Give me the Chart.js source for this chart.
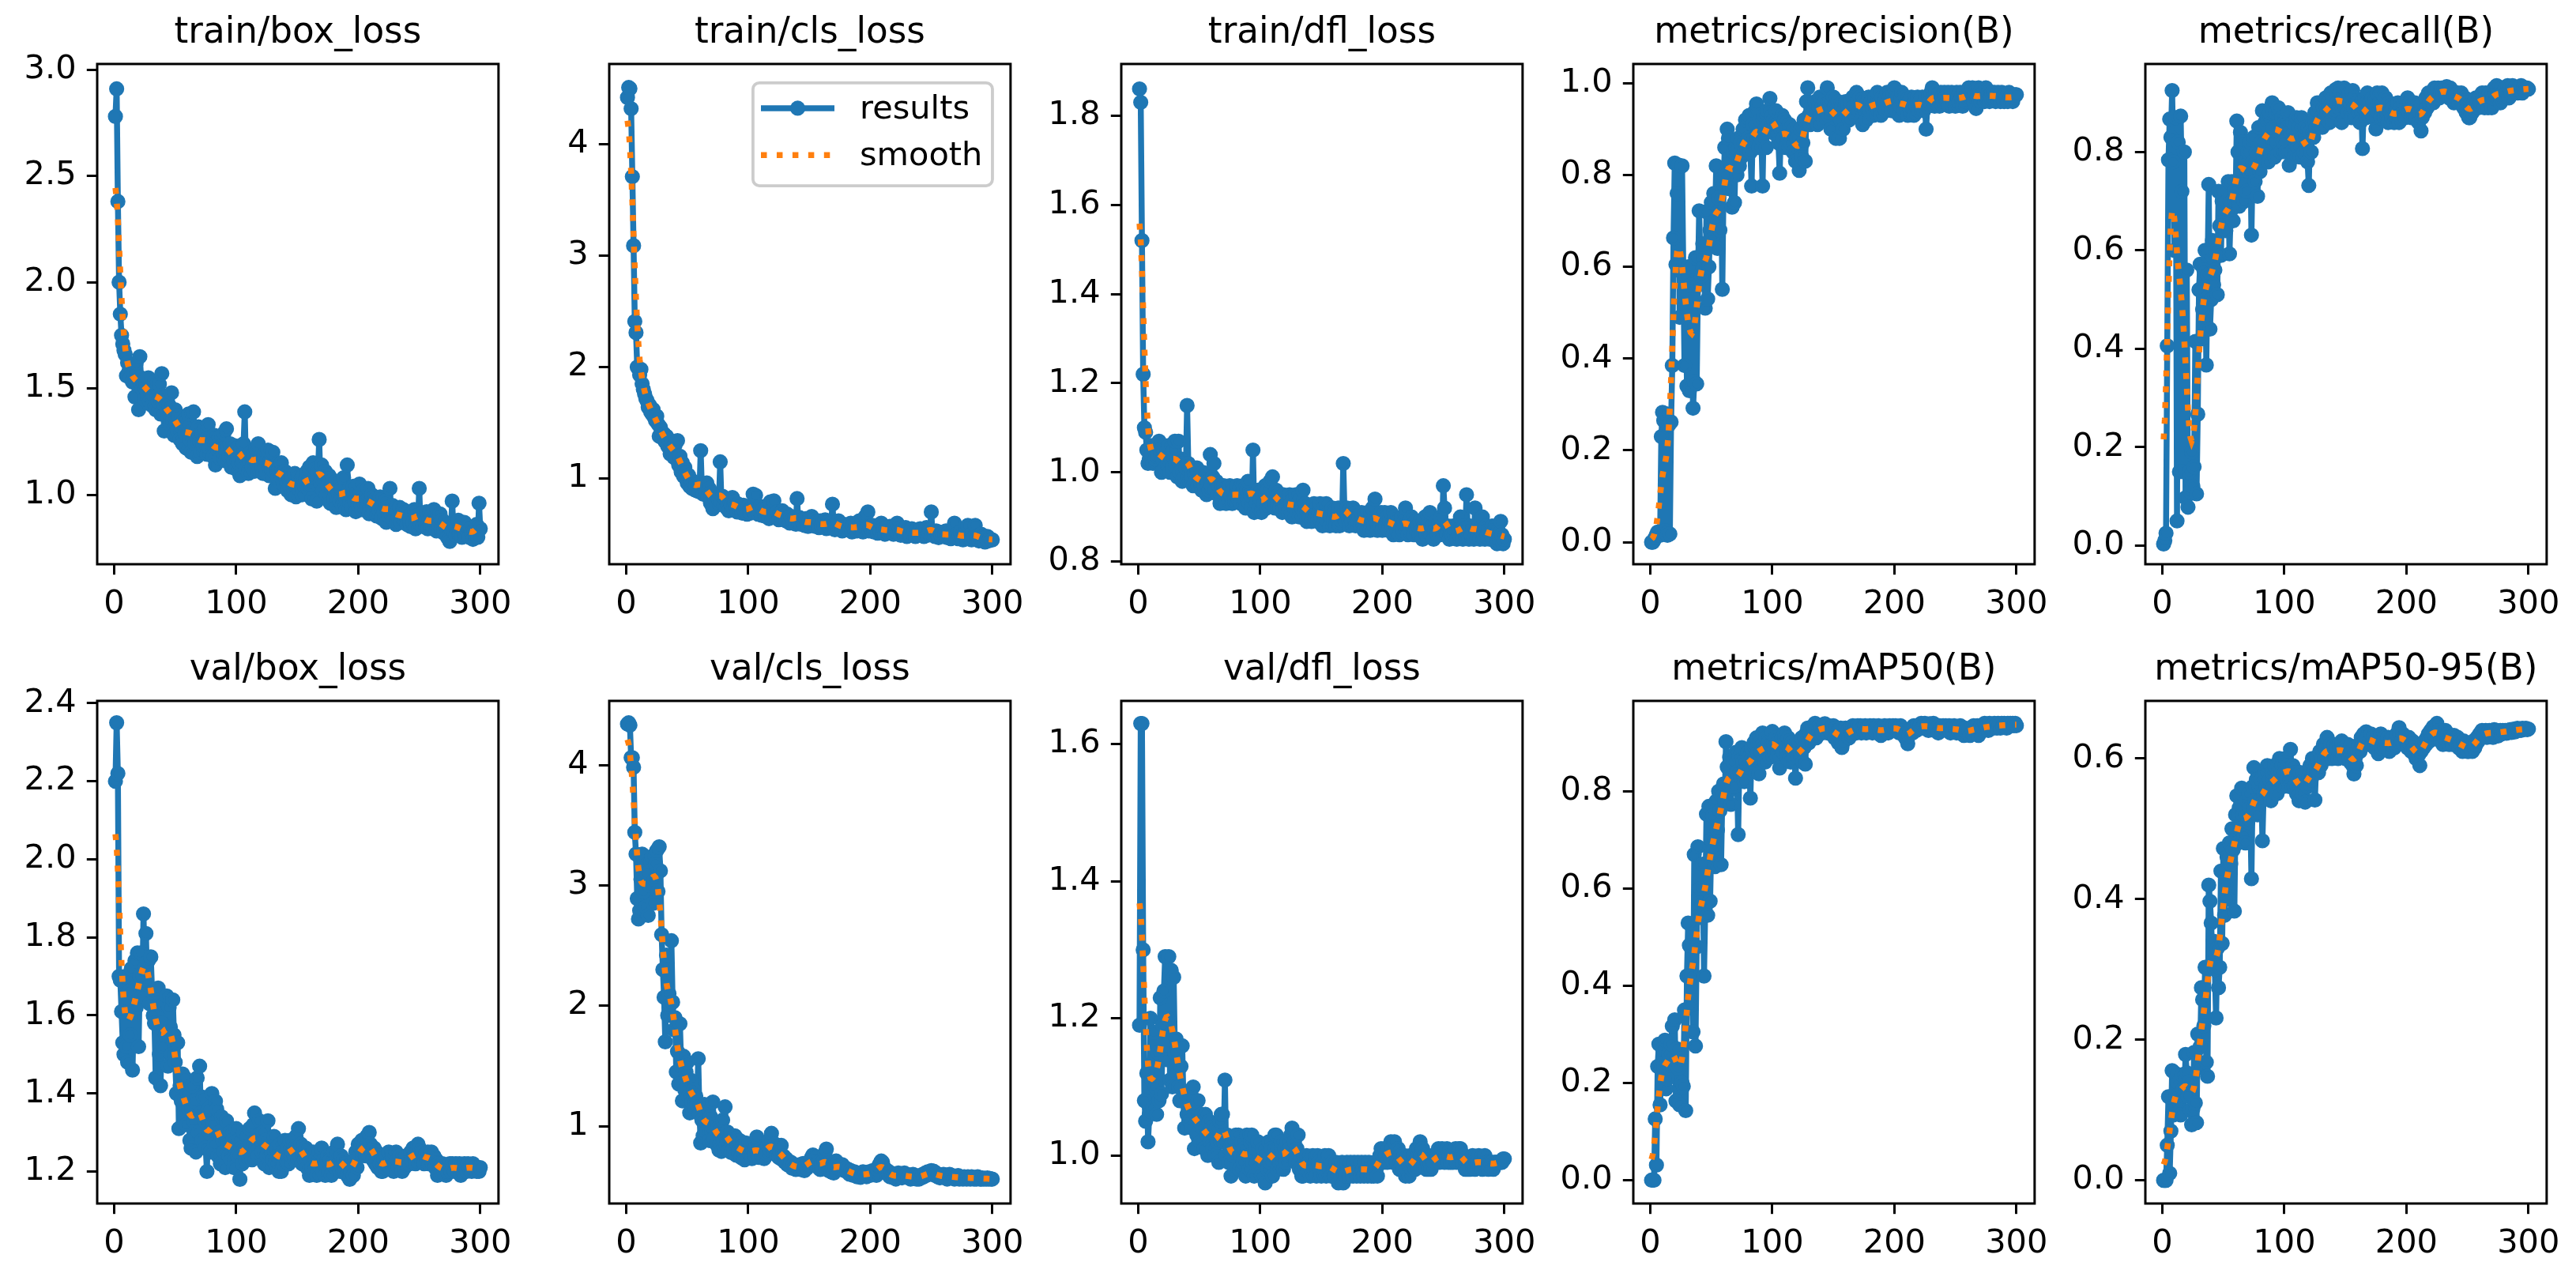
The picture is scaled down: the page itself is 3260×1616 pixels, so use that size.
<!DOCTYPE html>
<html><head><meta charset="utf-8">
<script src="https://cdn.jsdelivr.net/npm/chart.js@4.4.1/dist/chart.umd.min.js"></script>
<style>
html,body{margin:0;padding:0;background:#fff;}
body{width:3260px;height:1616px;position:relative;overflow:hidden;}
canvas{position:absolute;}
</style></head><body>
<script>
// ---------------- DATA ----------------
const epochs = Array.from({length: 300}, (_, i) => i + 1);

const titles = ["train/box_loss","train/cls_loss","train/dfl_loss","metrics/precision(B)","metrics/recall(B)",
                "val/box_loss","val/cls_loss","val/dfl_loss","metrics/mAP50(B)","metrics/mAP50-95(B)"];
const seriesLabels = ["results","smooth"];
const xTickLabels = ["0","100","200","300"];
const yTickLabels = [
  ["1.0","1.5","2.0","2.5","3.0"],
  ["1","2","3","4"],
  ["0.8","1.0","1.2","1.4","1.6","1.8"],
  ["0.0","0.2","0.4","0.6","0.8","1.0"],
  ["0.0","0.2","0.4","0.6","0.8"],
  ["1.2","1.4","1.6","1.8","2.0","2.2","2.4"],
  ["1","2","3","4"],
  ["1.0","1.2","1.4","1.6"],
  ["0.0","0.2","0.4","0.6","0.8"],
  ["0.0","0.2","0.4","0.6"]
];
const xLimits = [-13.95, 314.95];
const yLimits = [[0.673,3.027],[0.231,4.721],[0.794,1.916],[-0.048,1.042],[-0.038,0.979],
                 [1.118,2.406],[0.357,4.532],[0.930,1.663],[-0.048,0.986],[-0.033,0.682]];

const trainBoxLoss = [
2.78,2.91,2.38,2.00,1.85,1.75,1.71,1.68,1.66,1.56,1.62,1.58,1.55,1.60,1.53,1.57,1.46,1.62,1.52,1.40,
1.65,1.55,1.50,1.53,1.45,1.52,1.48,1.55,1.44,1.50,1.42,1.47,1.53,1.40,1.46,1.44,1.52,1.38,1.57,1.43,
1.30,1.46,1.40,1.36,1.42,1.33,1.48,1.35,1.28,1.40,1.34,1.30,1.37,1.26,1.32,1.24,1.35,1.29,1.22,1.33,
1.38,1.26,1.20,1.30,1.39,1.24,1.28,1.18,1.32,1.25,1.20,1.29,1.23,1.31,1.26,1.19,1.33,1.22,1.27,1.24,
1.18,1.28,1.14,1.25,1.21,1.27,1.17,1.23,1.20,1.29,1.16,1.31,1.22,1.18,1.24,1.13,1.20,1.16,1.23,1.12,
1.19,1.15,1.09,1.21,1.17,1.24,1.39,1.12,1.18,1.10,1.16,1.20,1.13,1.17,1.11,1.22,1.15,1.24,1.12,1.18,
1.14,1.10,1.19,1.13,1.16,1.21,1.09,1.15,1.12,1.20,1.11,1.03,1.14,1.08,1.12,1.06,1.15,1.10,1.05,1.11,
1.07,1.02,1.09,1.04,1.00,1.08,1.03,1.10,0.99,1.05,1.08,1.02,1.06,1.00,1.09,1.04,1.07,1.11,1.03,1.13,
1.05,0.98,1.15,1.08,1.12,0.97,1.10,1.26,1.06,1.14,1.02,1.08,1.11,1.00,1.04,1.09,0.96,1.03,1.07,0.98,
1.01,0.94,1.05,1.00,0.97,1.03,0.95,1.08,0.99,0.93,1.14,1.02,0.96,1.00,0.94,1.04,0.97,0.92,1.01,0.95,
1.05,0.98,0.93,1.02,0.96,0.99,0.94,1.03,0.91,0.97,1.00,0.95,0.92,0.98,0.90,0.96,0.93,0.99,0.89,0.95,
0.92,0.97,0.87,0.94,0.90,1.03,0.91,0.95,0.88,0.93,0.86,0.92,0.89,0.94,0.87,0.91,0.93,0.88,0.90,0.86,
0.92,0.89,0.85,0.91,0.87,0.93,0.84,0.90,0.88,1.03,0.86,0.91,0.85,0.89,0.87,0.92,0.84,0.88,0.86,0.90,
0.85,0.93,0.87,0.83,0.89,0.86,0.91,0.84,0.88,0.82,0.87,0.85,0.80,0.86,0.78,0.84,0.97,0.83,0.86,0.81,
0.85,0.88,0.82,0.86,0.80,0.84,0.87,0.81,0.83,0.85,0.80,0.84,0.82,0.79,0.83,0.81,0.86,0.80,0.96,0.84];

const trainClsLoss = [
4.42,4.51,4.50,4.32,3.71,3.09,2.41,2.31,2.00,1.99,1.93,1.98,1.85,1.80,1.76,1.72,1.70,1.64,1.66,1.60,
1.58,1.62,1.55,1.52,1.56,1.49,1.38,1.46,1.42,1.36,1.40,1.33,1.38,1.29,1.35,1.22,1.31,1.25,1.19,1.30,
1.18,1.34,1.12,1.20,1.06,1.14,1.02,1.10,1.05,0.96,1.03,0.93,0.99,0.91,0.97,0.90,0.94,0.89,0.92,0.88,
1.25,0.90,0.86,0.93,0.88,0.96,0.84,0.91,0.78,0.87,0.73,0.85,0.80,0.76,0.83,0.81,1.15,0.79,0.84,0.77,
0.82,0.74,0.78,0.71,0.80,0.76,0.83,0.73,0.79,0.75,0.70,0.77,0.72,0.74,0.69,0.76,0.71,0.73,0.68,0.75,
0.72,0.69,0.74,0.86,0.70,0.85,0.73,0.68,0.71,0.75,0.67,0.72,0.70,0.66,0.73,0.69,0.64,0.79,0.71,0.67,
0.80,0.68,0.65,0.70,0.63,0.69,0.66,0.71,0.64,0.67,0.62,0.68,0.65,0.60,0.66,0.63,0.61,0.64,0.59,0.82,
0.62,0.65,0.59,0.63,0.60,0.58,0.64,0.61,0.57,0.62,0.60,0.66,0.58,0.63,0.57,0.61,0.59,0.56,0.62,0.58,
0.60,0.57,0.63,0.55,0.59,0.61,0.56,0.60,0.77,0.58,0.54,0.60,0.57,0.62,0.55,0.58,0.53,0.59,0.56,0.57,
0.54,0.58,0.55,0.60,0.52,0.57,0.55,0.59,0.53,0.56,0.62,0.54,0.58,0.52,0.57,0.66,0.55,0.70,0.53,0.56,
0.54,0.58,0.52,0.55,0.57,0.51,0.56,0.53,0.60,0.52,0.55,0.50,0.56,0.53,0.51,0.57,0.52,0.54,0.50,0.58,
0.53,0.60,0.51,0.55,0.49,0.54,0.52,0.50,0.56,0.48,0.53,0.51,0.49,0.55,0.50,0.52,0.48,0.54,0.51,0.49,
0.55,0.50,0.53,0.48,0.52,0.56,0.49,0.51,0.54,0.70,0.50,0.52,0.48,0.53,0.50,0.47,0.52,0.49,0.51,0.48,
0.50,0.53,0.47,0.51,0.49,0.46,0.52,0.48,0.60,0.47,0.50,0.46,0.49,0.52,0.47,0.45,0.50,0.48,0.46,0.58,
0.47,0.49,0.45,0.51,0.47,0.58,0.46,0.48,0.44,0.47,0.50,0.45,0.47,0.43,0.46,0.48,0.44,0.46,0.45,0.45];

const trainDflLoss = [
1.86,1.83,1.52,1.22,1.10,1.09,1.05,1.02,1.03,1.06,1.04,1.02,1.05,1.03,1.06,1.04,1.07,1.05,1.00,1.03,
1.05,1.01,1.04,1.02,1.06,1.00,1.03,1.01,1.05,1.07,1.02,0.99,1.07,1.00,1.03,0.98,1.02,0.99,1.01,1.15,
1.02,0.98,1.01,0.99,0.97,1.00,0.98,1.01,0.97,0.99,0.98,0.96,1.00,0.97,0.99,0.95,0.98,0.96,1.04,0.97,
0.99,1.02,0.96,0.98,0.95,0.97,0.93,0.96,0.94,0.97,0.95,0.93,0.96,0.94,0.97,0.95,0.93,0.96,0.94,0.95,
0.97,0.94,0.96,0.93,0.95,0.97,0.94,0.92,0.96,0.98,0.93,0.95,0.92,1.05,0.91,0.95,0.93,0.96,0.92,0.94,
0.91,0.95,0.93,0.97,0.92,0.96,0.94,0.98,0.93,0.99,0.95,0.92,0.96,0.93,0.95,0.92,0.94,0.91,0.95,0.93,
0.92,0.94,0.91,0.95,0.93,0.90,0.94,0.92,0.95,0.91,0.93,0.90,0.94,0.92,0.96,0.91,0.93,0.89,0.92,0.90,
0.92,0.89,0.91,0.93,0.90,0.92,0.89,0.91,0.93,0.90,0.88,0.92,0.90,0.93,0.89,0.91,0.88,0.90,0.92,0.89,
0.91,0.88,0.90,0.92,0.88,0.90,0.89,1.02,0.91,0.89,0.92,0.90,0.88,0.91,0.89,0.92,0.90,0.88,0.91,0.89,
0.90,0.88,0.91,0.89,0.87,0.90,0.88,0.91,0.89,0.87,0.90,0.92,0.88,0.94,0.89,0.87,0.90,0.88,0.91,0.87,
0.89,0.91,0.88,0.90,0.87,0.89,0.91,0.88,0.86,0.90,0.88,0.87,0.89,0.86,0.88,0.90,0.87,0.89,0.92,0.88,
0.86,0.89,0.87,0.90,0.88,0.86,0.89,0.87,0.88,0.86,0.89,0.87,0.85,0.88,0.90,0.86,0.88,0.87,0.91,0.86,
0.88,0.85,0.87,0.89,0.86,0.88,0.86,0.90,0.87,0.97,0.92,0.87,0.86,0.88,0.85,0.87,0.86,0.88,0.86,0.87,
0.85,0.88,0.86,0.90,0.87,0.85,0.88,0.86,0.95,0.87,0.85,0.88,0.86,0.87,0.85,0.92,0.87,0.86,0.88,0.85,
0.87,0.90,0.86,0.85,0.88,0.86,0.87,0.85,0.86,0.88,0.85,0.87,0.86,0.84,0.87,0.85,0.89,0.86,0.84,0.85];

const precision = [
0.000,0.000,0.004,0.010,0.016,0.022,0.020,0.015,0.230,0.283,0.265,0.025,0.280,0.015,0.255,0.018,0.262,0.385,0.663,0.826,
0.605,0.760,0.822,0.490,0.590,0.820,0.600,0.385,0.580,0.340,0.600,0.330,0.560,0.470,0.292,0.350,0.620,0.345,0.560,0.722,
0.620,0.580,0.650,0.600,0.510,0.720,0.530,0.600,0.680,0.740,0.660,0.760,0.700,0.820,0.640,0.750,0.680,0.790,0.551,0.780,
0.860,0.800,0.900,0.880,0.770,0.840,0.730,0.850,0.740,0.860,0.800,0.880,0.820,0.870,0.840,0.900,0.850,0.920,0.860,0.880,
0.930,0.850,0.776,0.910,0.880,0.940,0.955,0.890,0.860,0.920,0.880,0.776,0.930,0.900,0.860,0.940,0.910,0.967,0.900,0.930,
0.920,0.890,0.940,0.910,0.870,0.804,0.900,0.930,0.880,0.920,0.860,0.900,0.880,0.910,0.870,0.890,0.850,0.900,0.830,0.880,
0.860,0.810,0.900,0.840,0.870,0.920,0.830,0.960,0.990,0.930,0.910,0.950,0.920,0.940,0.960,0.930,0.910,0.950,0.970,0.930,
0.950,0.920,0.960,0.940,0.990,0.930,0.960,0.900,0.940,0.970,0.950,0.880,0.930,0.960,0.880,0.920,0.950,0.900,0.940,0.960,
0.930,0.950,0.920,0.960,0.940,0.970,0.950,0.930,0.980,0.960,0.940,0.970,0.950,0.910,0.960,0.940,0.920,0.950,0.970,0.940,
0.960,0.950,0.930,0.970,0.950,0.980,0.940,0.960,0.930,0.970,0.950,0.960,0.940,0.980,0.950,0.970,0.960,0.940,0.975,0.990,
0.960,0.940,0.970,0.930,0.950,0.980,0.960,0.940,0.970,0.950,0.930,0.960,0.940,0.970,0.950,0.930,0.960,0.950,0.970,0.940,
0.960,0.950,0.970,0.940,0.960,0.900,0.950,0.970,0.960,0.980,0.990,0.970,0.950,0.980,0.960,0.970,0.950,0.980,0.970,0.960,
0.980,0.970,0.960,0.980,0.950,0.970,0.980,0.960,0.970,0.950,0.980,0.970,0.960,0.980,0.970,0.950,0.980,0.970,0.960,0.980,
0.990,0.970,0.980,0.990,0.960,0.980,0.945,0.970,0.990,0.980,0.960,0.970,0.980,0.960,0.990,0.970,0.980,0.960,0.970,0.980,
0.970,0.980,0.960,0.975,0.980,0.970,0.960,0.980,0.970,0.960,0.975,0.970,0.960,0.980,0.970,0.965,0.960,0.970,0.975,0.975];

const recall = [
0.003,0.010,0.025,0.406,0.784,0.867,0.830,0.925,0.780,0.600,0.870,0.050,0.820,0.150,0.873,0.720,0.150,0.800,0.097,0.560,
0.078,0.150,0.110,0.190,0.120,0.160,0.415,0.105,0.267,0.520,
0.572,0.420,0.480,0.560,0.600,0.367,0.550,0.734,0.440,0.500,0.620,0.530,0.560,0.600,0.510,0.720,0.650,0.590,0.700,0.680,
0.720,0.640,0.700,0.740,0.593,0.680,0.740,0.660,0.720,0.700,0.863,0.800,0.690,0.840,0.740,0.820,0.700,0.780,0.720,0.800,
0.760,0.820,0.631,0.780,0.830,0.740,0.800,0.710,0.850,0.760,0.820,0.884,0.790,0.860,0.800,0.870,0.780,0.880,0.830,0.900,
0.850,0.790,0.880,0.820,0.890,0.840,0.800,0.870,0.820,0.860,0.800,0.850,0.880,0.773,0.840,0.800,0.860,0.790,0.830,0.870,
0.810,0.850,0.790,0.870,0.830,0.800,0.850,0.820,0.780,0.732,0.840,0.800,0.860,0.830,0.880,0.850,0.900,0.860,0.890,0.870,
0.850,0.890,0.870,0.910,0.880,0.900,0.860,0.920,0.890,0.910,0.880,0.927,0.900,0.930,0.890,0.920,0.860,0.910,0.930,0.890,
0.910,0.880,0.920,0.900,0.870,0.925,0.890,0.910,0.870,0.900,0.880,0.860,0.900,0.807,0.890,0.910,0.870,0.920,0.890,0.900,
0.880,0.910,0.870,0.900,0.847,0.920,0.880,0.900,0.870,0.920,0.890,0.870,0.910,0.880,0.860,0.900,0.880,0.870,0.890,0.860,
0.880,0.870,0.900,0.860,0.890,0.870,0.880,0.900,0.870,0.890,0.910,0.880,0.900,0.870,0.890,0.880,0.900,0.870,0.890,0.860,
0.880,0.843,0.870,0.900,0.880,0.910,0.890,0.920,0.900,0.910,0.920,0.900,0.930,0.910,0.920,0.930,0.910,0.920,0.930,0.920,
0.930,0.920,0.933,0.920,0.910,0.930,0.910,0.920,0.900,0.920,0.910,0.920,0.900,0.910,0.920,0.900,0.890,0.910,0.880,0.900,
0.870,0.870,0.890,0.880,0.900,0.890,0.910,0.900,0.890,0.910,0.900,0.920,0.910,0.890,0.920,0.910,0.890,0.920,0.900,0.890,
0.910,0.930,0.920,0.935,0.910,0.920,0.900,0.930,0.920,0.910,0.930,0.920,0.935,0.910,0.930,0.920,0.935,0.920,0.930,0.925,
0.920,0.930,0.925,0.935,0.920,0.930,0.925,0.930,0.930,0.928];

const valBoxLoss = [
2.20,2.35,2.22,1.70,1.69,1.61,1.53,1.50,1.70,1.52,1.48,1.66,1.55,1.72,1.46,1.60,1.74,1.62,1.76,1.52,
1.70,1.76,1.65,1.86,1.72,1.81,1.68,1.74,1.63,1.75,1.66,1.60,1.58,1.44,1.66,1.67,1.50,1.42,1.58,1.52,
1.63,1.55,1.65,1.47,1.62,1.57,1.50,1.64,1.55,1.48,1.40,1.53,1.31,1.42,1.38,1.45,1.35,1.44,1.32,1.40,
1.36,1.28,1.26,1.42,1.33,1.38,1.25,1.44,1.30,1.47,1.35,1.28,1.39,1.33,1.26,1.20,1.36,1.30,1.25,1.40,
1.32,1.27,1.38,1.36,1.24,1.30,1.22,1.34,1.28,1.25,1.21,1.33,1.27,1.24,1.30,1.23,1.28,1.21,1.26,1.31,
1.24,1.28,1.18,1.26,1.22,1.30,1.25,1.23,1.29,1.24,1.31,1.27,1.23,1.32,1.35,1.26,1.29,1.24,1.33,1.28,
1.25,1.30,1.22,1.28,1.24,1.33,1.21,1.27,1.25,1.23,1.29,1.22,1.26,1.24,1.20,1.27,1.20,1.25,1.22,1.28,
1.23,1.26,1.22,1.28,1.24,1.25,1.27,1.23,1.29,1.26,1.31,1.24,1.27,1.22,1.25,1.23,1.26,1.21,1.24,1.19,
1.23,1.21,1.25,1.20,1.23,1.19,1.22,1.25,1.21,1.26,1.20,1.23,1.19,1.22,1.24,1.20,1.23,1.19,1.22,1.25,
1.21,1.24,1.27,1.22,1.20,1.24,1.21,1.23,1.20,1.22,1.19,1.21,1.18,1.20,1.22,1.19,1.23,1.25,1.21,1.27,
1.24,1.26,1.28,1.25,1.27,1.24,1.29,1.26,1.30,1.27,1.25,1.23,1.26,1.22,1.25,1.21,1.24,1.22,1.20,1.20,
1.23,1.21,1.24,1.22,1.25,1.21,1.23,1.24,1.20,1.22,1.25,1.23,1.21,1.24,1.22,1.20,1.23,1.21,1.24,1.22,
1.24,1.22,1.25,1.23,1.26,1.24,1.22,1.25,1.27,1.26,1.24,1.23,1.25,1.22,1.24,1.23,1.25,1.22,1.24,1.25,
1.22,1.24,1.21,1.23,1.19,1.22,1.21,1.20,1.22,1.20,1.21,1.19,1.20,1.21,1.22,1.20,1.22,1.21,1.20,1.22,
1.21,1.20,1.22,1.19,1.21,1.20,1.22,1.21,1.20,1.22,1.21,1.21,1.20,1.22,1.21,1.21,1.20,1.21,1.20,1.21];

const valClsLoss = [
4.34,4.35,4.33,4.06,4.06,3.98,3.44,3.26,2.89,2.72,2.79,3.05,3.26,2.95,3.19,2.82,3.10,2.75,3.00,3.20,
3.24,2.85,3.05,3.18,3.29,2.95,3.32,3.12,2.59,2.30,2.07,1.70,2.42,1.92,2.10,2.01,2.54,2.03,1.80,1.90,
1.45,1.62,1.35,1.85,1.50,1.21,1.58,1.30,1.45,1.53,1.25,1.11,1.38,1.20,1.30,1.15,1.25,1.18,1.56,1.10,
0.86,1.05,0.92,1.18,1.04,0.95,1.15,0.88,1.08,0.96,1.20,0.90,1.02,0.85,0.98,0.80,0.93,0.79,1.05,0.88,
1.16,0.84,0.95,0.80,0.90,0.78,0.86,0.82,0.92,0.76,0.85,0.79,0.88,0.74,0.83,0.78,0.72,0.86,0.75,0.80,
0.77,0.84,0.73,0.80,0.76,0.82,0.91,0.78,0.74,0.81,0.76,0.79,0.73,0.80,0.77,0.84,0.88,0.80,0.94,0.82,
0.79,0.85,0.76,0.81,0.74,0.78,0.84,0.72,0.75,0.70,0.73,0.68,0.71,0.67,0.70,0.65,0.68,0.66,0.64,0.67,
0.65,0.68,0.64,0.66,0.69,0.63,0.67,0.65,0.70,0.68,0.72,0.74,0.76,0.70,0.73,0.68,0.66,0.70,0.64,0.67,
0.65,0.72,0.78,0.81,0.69,0.63,0.66,0.62,0.64,0.61,0.66,0.71,0.69,0.65,0.67,0.64,0.68,0.66,0.63,0.65,
0.62,0.64,0.60,0.63,0.61,0.59,0.62,0.60,0.58,0.61,0.59,0.575,0.60,0.62,0.59,0.61,0.58,0.60,0.62,0.59,
0.61,0.63,0.60,0.62,0.59,0.64,0.67,0.69,0.71,0.70,0.66,0.64,0.61,0.63,0.60,0.58,0.61,0.59,0.57,0.60,
0.56,0.59,0.61,0.58,0.60,0.57,0.59,0.61,0.58,0.60,0.57,0.59,0.56,0.58,0.60,0.57,0.59,0.56,0.58,0.56,
0.59,0.57,0.60,0.58,0.61,0.59,0.62,0.60,0.61,0.63,0.60,0.625,0.59,0.61,0.58,0.60,0.57,0.59,0.58,0.60,
0.57,0.59,0.56,0.58,0.60,0.57,0.59,0.58,0.56,0.58,0.57,0.59,0.56,0.58,0.57,0.56,0.58,0.57,0.56,0.58,
0.57,0.56,0.58,0.57,0.56,0.57,0.56,0.58,0.57,0.56,0.56,0.57,0.56,0.565,0.56,0.57,0.56,0.565,0.56,0.56];

const valDflLoss = [
1.19,1.63,1.63,1.30,1.08,1.05,1.12,1.02,1.06,1.20,1.11,1.07,1.18,1.10,1.06,1.15,1.08,1.23,1.09,1.19,
1.24,1.29,1.14,1.20,1.29,1.11,1.27,1.10,1.26,1.15,1.17,1.12,1.10,1.08,1.13,1.16,1.08,1.04,1.09,1.06,
1.07,1.05,1.09,1.04,1.10,1.01,1.06,1.03,1.08,1.05,1.02,1.06,1.04,1.01,1.06,1.03,1.00,1.05,1.02,1.04,
1.01,1.03,1.00,1.04,1.02,0.99,1.05,1.06,1.06,1.02,1.11,1.00,1.03,0.99,1.01,0.97,1.02,1.00,0.98,1.03,
1.01,1.03,0.98,1.00,1.02,0.99,1.01,0.97,1.03,1.00,0.98,1.02,1.03,0.99,0.97,1.01,0.99,1.02,0.98,1.00,
0.97,1.01,0.99,0.96,1.00,0.98,1.02,0.99,1.01,0.97,1.00,1.03,1.03,0.98,1.01,0.99,1.02,1.00,0.98,1.01,
0.99,1.02,1.00,1.01,1.03,1.04,1.00,1.02,0.99,1.01,1.03,0.98,1.00,0.97,0.97,0.99,0.98,1.00,0.98,0.99,
0.97,0.99,1.00,0.98,0.99,0.97,1.00,0.99,0.98,0.97,0.99,0.98,1.00,0.97,0.99,1.00,0.98,0.97,0.99,0.98,
0.97,0.99,0.98,0.96,0.98,0.97,0.99,0.96,0.98,0.97,0.99,0.98,0.97,0.99,0.98,0.97,0.99,0.98,0.97,0.99,
0.98,0.97,0.99,0.98,0.97,0.99,0.98,0.97,0.99,0.98,0.97,0.98,0.97,0.99,0.98,0.97,0.99,1.00,1.01,1.00,
0.99,1.01,1.00,0.99,1.01,1.00,1.02,1.01,0.99,1.02,1.00,0.99,1.01,0.98,1.00,0.99,0.98,1.00,0.97,0.98,
0.99,0.97,1.00,0.98,0.99,1.00,0.98,1.01,1.00,1.01,1.02,1.00,1.01,0.99,1.00,0.98,0.99,0.98,0.99,0.98,
1.00,0.99,1.00,0.99,1.00,1.01,0.99,1.00,1.01,1.00,0.99,1.00,1.01,0.99,1.00,0.99,1.00,0.99,1.00,1.01,
0.99,1.00,1.01,1.01,1.00,0.99,1.00,0.98,0.99,0.98,0.99,0.98,0.99,1.00,0.99,0.98,0.99,0.99,1.00,0.99,
0.99,0.98,0.99,1.00,0.99,0.99,0.98,0.99,0.99,0.99,0.98,0.99,0.99,0.99,0.99,0.99,0.99,0.99,0.995,0.995];

const mAP50 = [
0.000,0.000,0.000,0.126,0.031,0.234,0.280,0.155,0.230,0.270,0.240,0.288,0.188,0.209,0.260,0.230,0.280,0.317,0.250,0.330,
0.163,0.270,0.230,0.155,0.250,0.200,0.193,0.350,0.143,0.420,0.529,0.483,0.360,0.420,0.305,0.670,0.276,0.480,0.686,0.570,
0.600,0.540,0.650,0.420,0.560,0.753,0.545,0.769,0.574,0.700,0.750,0.680,0.645,0.780,0.720,0.800,0.760,0.649,0.790,0.815,
0.780,0.902,0.850,0.800,0.870,0.773,0.830,0.860,0.810,0.880,0.840,0.711,0.870,0.830,0.890,0.860,0.820,0.885,0.850,0.880,
0.870,0.786,0.890,0.860,0.900,0.870,0.910,0.880,0.836,0.900,0.880,0.920,0.890,0.860,0.910,0.880,0.900,0.870,0.920,0.923,
0.900,0.880,0.910,0.870,0.900,0.848,0.890,0.910,0.880,0.920,0.900,0.870,0.910,0.890,0.860,0.900,0.880,0.870,0.827,0.890,
0.870,0.900,0.880,0.910,0.860,0.890,0.856,0.920,0.930,0.900,0.920,0.910,0.930,0.920,0.940,0.910,0.930,0.920,0.935,0.930,
0.920,0.935,0.939,0.930,0.920,0.935,0.925,0.930,0.920,0.935,0.910,0.930,0.920,0.900,0.915,0.930,0.890,0.900,0.920,0.930,
0.915,0.925,0.910,0.930,0.920,0.935,0.925,0.930,0.920,0.935,0.930,0.935,0.920,0.930,0.925,0.935,0.920,0.930,0.925,0.935,
0.930,0.920,0.935,0.925,0.930,0.920,0.935,0.925,0.915,0.930,0.920,0.935,0.925,0.930,0.920,0.935,0.930,0.925,0.935,0.930,
0.935,0.925,0.930,0.920,0.935,0.930,0.925,0.915,0.910,0.920,0.898,0.915,0.925,0.930,0.920,0.935,0.930,0.925,0.935,0.930,
0.935,0.940,0.930,0.935,0.940,0.930,0.935,0.925,0.939,0.935,0.930,0.940,0.925,0.935,0.930,0.920,0.935,0.930,0.925,0.935,
0.930,0.935,0.925,0.930,0.935,0.920,0.930,0.925,0.935,0.930,0.920,0.925,0.930,0.935,0.920,0.925,0.915,0.930,0.925,0.920,
0.925,0.915,0.930,0.925,0.935,0.930,0.925,0.935,0.915,0.930,0.935,0.925,0.930,0.940,0.930,0.935,0.925,0.940,0.930,0.935,
0.930,0.940,0.935,0.930,0.940,0.935,0.930,0.940,0.935,0.940,0.935,0.930,0.940,0.935,0.940,0.935,0.940,0.935,0.940,0.935];

const mAP5095 = [
0.000,0.000,0.000,0.050,0.119,0.010,0.070,0.156,0.093,0.153,0.120,0.140,0.139,0.110,0.093,0.150,0.130,0.120,0.179,0.153,
0.120,0.140,0.100,0.079,0.102,0.182,0.110,0.082,0.208,0.160,0.190,0.274,0.257,0.220,0.303,0.168,0.148,0.420,0.397,0.366,
0.310,0.340,0.300,0.231,0.330,0.274,0.303,0.440,0.337,0.472,0.377,0.420,0.460,0.400,0.480,0.450,0.500,0.470,0.383,0.520,
0.547,0.480,0.530,0.500,0.558,0.520,0.490,0.480,0.540,0.510,0.550,0.530,0.429,0.560,0.587,0.540,0.570,0.520,0.560,0.540,
0.570,0.483,0.550,0.580,0.560,0.590,0.550,0.570,0.540,0.580,0.560,0.590,0.570,0.550,0.580,0.600,0.570,0.590,0.560,0.580,
0.600,0.570,0.590,0.560,0.613,0.580,0.590,0.560,0.580,0.550,0.570,0.540,0.580,0.560,0.550,0.570,0.538,0.580,0.560,0.575,
0.590,0.570,0.600,0.580,0.541,0.590,0.600,0.580,0.610,0.590,0.600,0.620,0.600,0.615,0.630,0.600,0.610,0.620,0.600,0.610,
0.620,0.605,0.615,0.600,0.620,0.610,0.625,0.605,0.615,0.600,0.610,0.620,0.600,0.595,0.610,0.590,0.578,0.600,0.590,0.610,
0.620,0.610,0.630,0.620,0.635,0.625,0.638,0.630,0.620,0.625,0.635,0.620,0.630,0.615,0.625,0.630,0.607,0.620,0.635,0.615,
0.625,0.630,0.615,0.620,0.630,0.610,0.625,0.620,0.630,0.615,0.625,0.635,0.620,0.644,0.630,0.625,0.635,0.620,0.630,0.625,
0.615,0.630,0.620,0.610,0.625,0.615,0.605,0.600,0.610,0.605,0.590,0.610,0.620,0.615,0.625,0.620,0.630,0.635,0.625,0.640,
0.630,0.645,0.635,0.640,0.650,0.630,0.640,0.625,0.635,0.620,0.630,0.640,0.625,0.635,0.620,0.630,0.625,0.620,0.633,0.625,
0.620,0.630,0.615,0.625,0.620,0.610,0.625,0.615,0.620,0.610,0.610,0.615,0.620,0.610,0.625,0.615,0.620,0.630,0.625,0.635,
0.630,0.640,0.633,0.635,0.640,0.630,0.638,0.640,0.635,0.640,0.630,0.641,0.635,0.640,0.632,0.638,0.640,0.635,0.640,0.637,
0.640,0.636,0.640,0.638,0.641,0.637,0.640,0.642,0.638,0.641,0.643,0.640,0.642,0.640,0.643,0.641,0.642,0.643,0.641,0.642];

const panelSeries = [trainBoxLoss, trainClsLoss, trainDflLoss, precision, recall,
                     valBoxLoss, valClsLoss, valDflLoss, mAP50, mAP5095];

// ---------------- LAYOUT / STYLE ----------------
const LAYOUT = {colLeft:[123,771,1419,2067,2715], plotW:509, rowTop:[81,887], plotH:[633,636],
                yAxisW:118, xAxisH:80, titleH:81, rightPad:30};
const FONT = 'DejaVu Sans';
const BLUE = '#1f77b4', ORANGE = '#ff7f0e';

// same smoothing the original plot uses (gaussian filter, sigma 3, reflect mode)
function gaussianSmooth(y, sigma) {
  const r = Math.floor(4 * sigma + 0.5), w = [];
  let s = 0;
  for (let k = -r; k <= r; k++) { const v = Math.exp(-0.5 * k * k / (sigma * sigma)); w.push(v); s += v; }
  const n = y.length, out = [];
  for (let i = 0; i < n; i++) {
    let acc = 0;
    for (let k = -r; k <= r; k++) {
      let j = i + k;
      while (j < 0 || j >= n) { if (j < 0) j = -j - 1; if (j >= n) j = 2 * n - j - 1; }
      acc += w[k + r] * y[j];
    }
    out.push(acc / s);
  }
  return out;
}

const framePlugin = {
  id: 'frame',
  afterDatasetsDraw(chart) {
    const {ctx, chartArea: a} = chart;
    ctx.save(); ctx.strokeStyle = '#000'; ctx.lineWidth = 3;
    ctx.strokeRect(a.left, a.top, a.right - a.left, a.bottom - a.top);
    ctx.restore();
  }
};

const legendPlugin = {
  id: 'mplLegend',
  afterDraw(chart) {
    const {ctx, chartArea: a} = chart;
    const ds = chart.data.datasets;
    const bx = a.left + 180, by = a.top + 22, bw = (a.right - 21) - bx, bh = 134;
    ctx.save();
    ctx.beginPath();
    ctx.roundRect(bx + 1.9, by + 1.9, bw - 3.8, bh - 3.8, 8);
    ctx.fillStyle = 'rgba(255,255,255,0.8)'; ctx.fill();
    ctx.lineWidth = 3.8; ctx.strokeStyle = '#cccccc'; ctx.stroke();
    const rows = [a.top + 56, a.top + 115.4];
    const x0 = a.left + 192, x1 = a.left + 285;
    // results handle
    ctx.beginPath(); ctx.moveTo(x0, rows[0]); ctx.lineTo(x1, rows[0]);
    ctx.strokeStyle = ds[0].borderColor; ctx.lineWidth = ds[0].borderWidth; ctx.lineCap = 'butt'; ctx.stroke();
    ctx.beginPath(); ctx.arc((x0 + x1) / 2, rows[0], ds[0].pointRadius + ds[0].pointBorderWidth / 2, 0, Math.PI * 2);
    ctx.fillStyle = ds[0].borderColor; ctx.fill();
    // smooth handle
    ctx.beginPath(); ctx.setLineDash(ds[1].borderDash); ctx.moveTo(x0, rows[1]); ctx.lineTo(x1, rows[1]);
    ctx.strokeStyle = ds[1].borderColor; ctx.lineWidth = ds[1].borderWidth; ctx.stroke(); ctx.setLineDash([]);
    ctx.fillStyle = '#000'; ctx.font = '41.5px "' + FONT + '"'; ctx.textBaseline = 'middle'; ctx.textAlign = 'left';
    ctx.fillText(ds[0].label, a.left + 317, rows[0] + 2);
    ctx.fillText(ds[1].label, a.left + 317, rows[1] + 2);
    ctx.restore();
  }
};

panelSeries.forEach((series, idx) => {
  const c = idx % 5, r = Math.floor(idx / 5);
  const cv = document.createElement('canvas');
  const W = LAYOUT.yAxisW + LAYOUT.plotW + LAYOUT.rightPad;
  const H = LAYOUT.titleH + LAYOUT.plotH[r] + LAYOUT.xAxisH;
  cv.width = W; cv.height = H;
  cv.style.width = W + 'px'; cv.style.height = H + 'px';
  cv.style.left = (LAYOUT.colLeft[c] - LAYOUT.yAxisW) + 'px';
  cv.style.top = (LAYOUT.rowTop[r] - LAYOUT.titleH) + 'px';
  document.body.appendChild(cv);

  const smooth = gaussianSmooth(series, 3);
  const yLabels = yTickLabels[idx];
  const tickFont = {family: FONT, size: 41.5};
  const gridOpts = {display: true, drawOnChartArea: false, drawTicks: true, tickLength: 13.2, tickWidth: 3, tickColor: '#000'};

  new Chart(cv, {
    type: 'line',
    data: {
      datasets: [
        {label: seriesLabels[0], data: series.map((v, i) => ({x: epochs[i], y: v})),
         borderColor: BLUE, backgroundColor: BLUE, borderWidth: 7.5, borderJoinStyle: 'round', borderCapStyle: 'round',
         pointRadius: 7.7, pointHoverRadius: 7.7, pointBorderWidth: 3.8, pointBackgroundColor: BLUE, pointBorderColor: BLUE,
         tension: 0, fill: false, order: 1},
        {label: seriesLabels[1], data: smooth.map((v, i) => ({x: epochs[i], y: v})),
         borderColor: ORANGE, backgroundColor: ORANGE, borderWidth: 7.5, borderDash: [7.5, 12.45], borderCapStyle: 'butt',
         pointRadius: 0, pointHoverRadius: 0, tension: 0, fill: false, order: 0}
      ]
    },
    options: {
      responsive: false, animation: false, devicePixelRatio: 1,
      layout: {autoPadding: false, padding: {left: 0, right: LAYOUT.rightPad, top: 0, bottom: 0}},
      events: [],
      plugins: {
        legend: {display: false}, tooltip: {enabled: false},
        title: {display: true, text: titles[idx], fullSize: false, color: '#000',
                font: {family: FONT, size: 45.3, weight: 'normal', lineHeight: 1.2},
                padding: {top: 15.5, bottom: 11.1}}
      },
      scales: {
        x: {type: 'linear', min: xLimits[0], max: xLimits[1],
            afterBuildTicks: s => { s.ticks = xTickLabels.map(l => ({value: parseFloat(l)})); },
            afterFit: s => { s.height = LAYOUT.xAxisH; },
            grid: gridOpts, border: {display: false},
            ticks: {color: '#000', font: tickFont, padding: 13.2, maxRotation: 0, minRotation: 0, autoSkip: false,
                    callback: v => xTickLabels.find(l => parseFloat(l) === v) ?? ''}},
        y: {type: 'linear', min: yLimits[idx][0], max: yLimits[idx][1],
            afterBuildTicks: s => { s.ticks = yLabels.map(l => ({value: parseFloat(l)})); },
            afterFit: s => { s.width = LAYOUT.yAxisW; },
            grid: gridOpts, border: {display: false},
            ticks: {color: '#000', font: tickFont, padding: 13.2, autoSkip: false,
                    callback: v => yLabels.find(l => Math.abs(parseFloat(l) - v) < 1e-9) ?? ''}}
      }
    },
    plugins: idx === 1 ? [framePlugin, legendPlugin] : [framePlugin]
  });
});
</script>
</body></html>
